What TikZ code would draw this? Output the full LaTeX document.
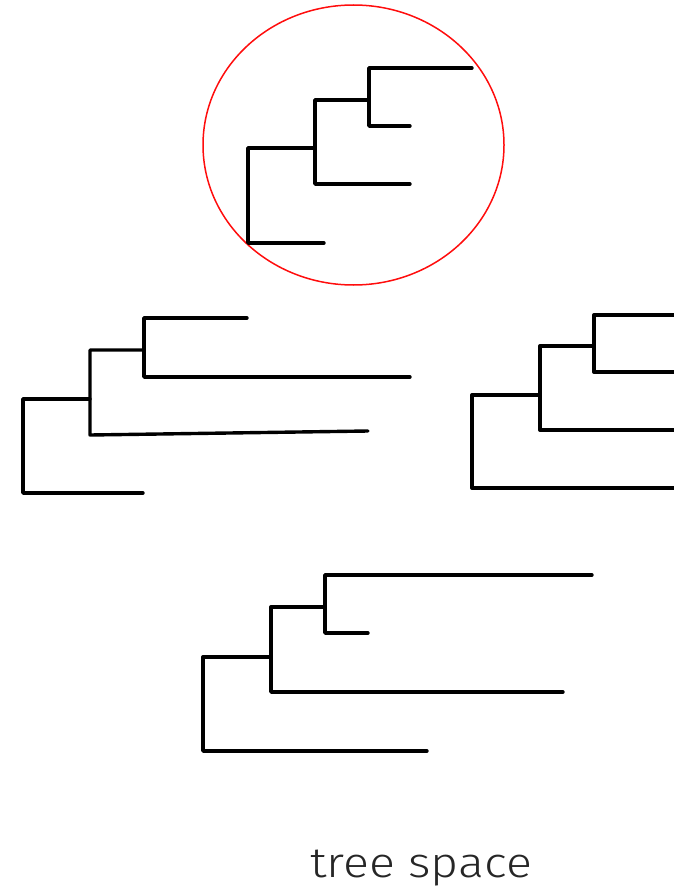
\documentclass[tikz,border=0pt]{standalone}
\usepackage{fontspec}
\setmainfont{Fira Sans}[UprightFont=* Light]
\newfontfamily\labelfont{Fira Sans}[UprightFont=* Light,FakeStretch=1.15]
\begin{document}
\begin{tikzpicture}[x=1pt,y=-1pt,
  branch/.style={line width=3.4pt,line join=round,line cap=round,black},
  ring/.style={draw=red!95!white,line width=1.5pt}]
\useasboundingbox (0,0) rectangle (674,888);
\clip (0,0) rectangle (674,888);

% highlighted tree and its ring
\draw[ring] (353.5,145) ellipse[x radius=150.5,y radius=140];
\draw[branch] (324,243) -- (248,243) -- (248,148) -- (315,148);
\draw[branch] (410,184) -- (315,184) -- (315,100) -- (369,100);
\draw[branch] (410,126) -- (369,126) -- (369,68) -- (472,68);

% tree on the left
\draw[branch] (143,493) -- (23,493) -- (23,399) -- (90,399);
\draw[branch] (368,431) -- (90,435) -- (90,350) -- (144,350);
\draw[branch] (410,377) -- (144,377) -- (144,318) -- (247,318);

% tree on the right, running off the edge
\draw[branch] (690,488) -- (472,488) -- (472,395) -- (540,395);
\draw[branch] (690,430) -- (540,430) -- (540,346) -- (594,346);
\draw[branch] (690,372) -- (594,372) -- (594,315) -- (690,315);

% tree at the bottom
\draw[branch] (427,751) -- (203,751) -- (203,657) -- (271,657);
\draw[branch] (563,692) -- (271,692) -- (271,607) -- (325,607);
\draw[branch] (368,633) -- (325,633) -- (325,575) -- (592,575);

\node[anchor=base,inner sep=0pt,text=black!85,font=\labelfont\fontsize{42}{50}\selectfont] (label) at (421,877) {tree space};
\end{tikzpicture}
\end{document}
